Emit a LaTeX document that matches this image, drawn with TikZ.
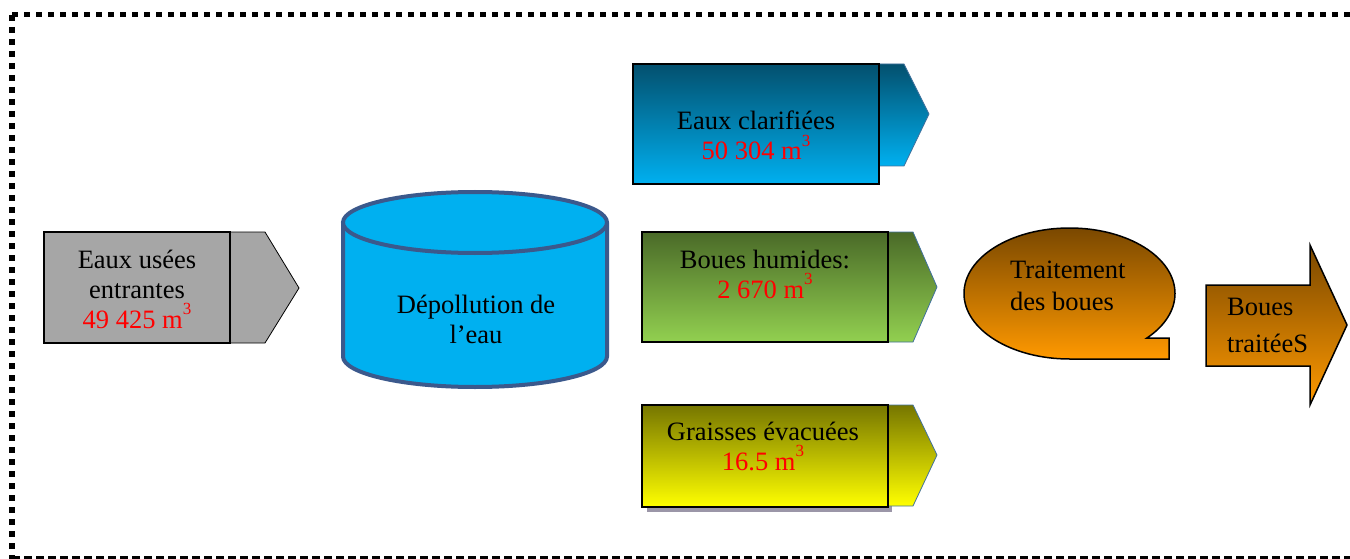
\documentclass[tikz,border=0pt]{standalone}
\usepackage{fontspec}
\setmainfont{Liberation Serif}
\definecolor{grayfill}{RGB}{166,166,166}
\definecolor{clartop}{RGB}{3,80,110}
\definecolor{clarbot}{RGB}{0,176,240}
\definecolor{humtop}{RGB}{74,106,40}
\definecolor{humbot}{RGB}{146,208,80}
\definecolor{grtop}{RGB}{118,118,0}
\definecolor{grbot}{RGB}{255,255,0}
\definecolor{ortop}{RGB}{122,72,0}
\definecolor{orbot}{RGB}{255,153,0}
\definecolor{cylfill}{RGB}{0,176,240}
\definecolor{cyledge}{RGB}{59,89,140}
\definecolor{tabedge}{RGB}{65,113,156}
\definecolor{shadowc}{RGB}{155,150,168}
\definecolor{numred}{RGB}{255,0,0}
\newcommand{\cubm}{m\raisebox{0.5em}{\fontsize{17}{17}\selectfont 3}}
\begin{document}
\begin{tikzpicture}[x=1pt,y=-1pt,
  lbl/.style={font=\fontsize{26.5}{30}\selectfont, align=center, inner sep=0pt, anchor=base},
  lbll/.style={font=\fontsize{26.5}{32}\selectfont, align=left, inner sep=0pt, anchor=base west},
  boxmain/.style={draw=black, line width=2.5pt},
  tabshape/.style={draw=tabedge, line width=0.8pt},
  framedot/.style={line width=5pt, dash pattern=on 6pt off 6pt},
  framedash/.style={line width=6pt, dash pattern=on 8pt off 4pt}]
\useasboundingbox (0,0) rectangle (1350,559);
% frame
\draw[framedot] (12,15) -- (1362,15);
\draw[framedot, line width=6pt] (12,15) -- (12,559);
\draw[framedash] (12,559) -- (1362,559);
% Eaux usees
\filldraw[fill=grayfill, draw=black, line width=0.8pt] (230,232) -- (265,232) -- (299,288) -- (265,343) -- (230,343) -- cycle;
\filldraw[boxmain, fill=grayfill] (44,232) rectangle (230,343);
\node[lbl] (usees) at (137,328) {Eaux usées\\entrantes\\\textcolor{numred}{49 425 \cubm}};
% cylinder
\path[fill=cylfill] (343,222.5) -- (343,356.5) arc[start angle=180, end angle=0, x radius=132, y radius=30.5] -- (607,222.5) -- cycle;
\draw[cyledge, line width=4pt] (343,222.5) -- (343,356.5) arc[start angle=180, end angle=0, x radius=132, y radius=30.5] -- (607,222.5);
\filldraw[fill=cylfill, draw=cyledge, line width=4pt] (475,222.5) ellipse[x radius=132, y radius=30.5];
\node[lbl] (depol) at (476,343) {Dépollution de\\l’eau};
% Eaux clarifiees
\shade[top color=clartop, bottom color=clarbot, tabshape] (879,64) -- (904,64) -- (929,114) -- (904,166) -- (879,166) -- cycle;
\shade[top color=clartop, bottom color=clarbot, boxmain] (633,64) rectangle (879,184);
\node[lbl] (clar) at (756,160) {Eaux clarifiées\\\textcolor{numred}{50 304 \cubm}};
% Boues humides
\shade[top color=humtop, bottom color=humbot, tabshape] (888,232) -- (913,232) -- (937,287) -- (913,342) -- (888,342) -- cycle;
\shade[top color=humtop, bottom color=humbot, boxmain] (642,232) rectangle (888,342);
\node[lbl] (hum) at (765,298) {Boues humides:\\\textcolor{numred}{2 670 \cubm}};
% Graisses
\fill[shadowc] (647,411) rectangle (892,512);
\shade[top color=grtop, bottom color=grbot, tabshape] (888,405) -- (913,405) -- (937,455) -- (913,506) -- (888,506) -- cycle;
\shade[top color=grtop, bottom color=grbot, boxmain] (642,405) rectangle (888,507);
\node[lbl] (gr) at (763,470) {Graisses évacuées\\\textcolor{numred}{16.5 \cubm}};
% Traitement des boues (callout)
\shade[top color=ortop, bottom color=orbot, draw=black, line width=1.5pt] (1147,338) -- (1169,338) -- (1169,359) -- (1069.5,359) arc[start angle=90, end angle=402.8, x radius=105.5, y radius=65.5] -- cycle;
\node[lbll] (trait) at (1010,310) {Traitement\\des boues};
% Boues traitees arrow
\shade[top color=ortop, bottom color=orbot, draw=black, line width=1.5pt] (1206,285) -- (1310,285) -- (1310,245) -- (1347,325) -- (1310,405) -- (1310,366) -- (1206,366) -- cycle;
\node[lbll, font=\fontsize{26.5}{37}\selectfont] (btr) at (1227,352) {Boues\\traitéeS};
\end{tikzpicture}
\end{document}
